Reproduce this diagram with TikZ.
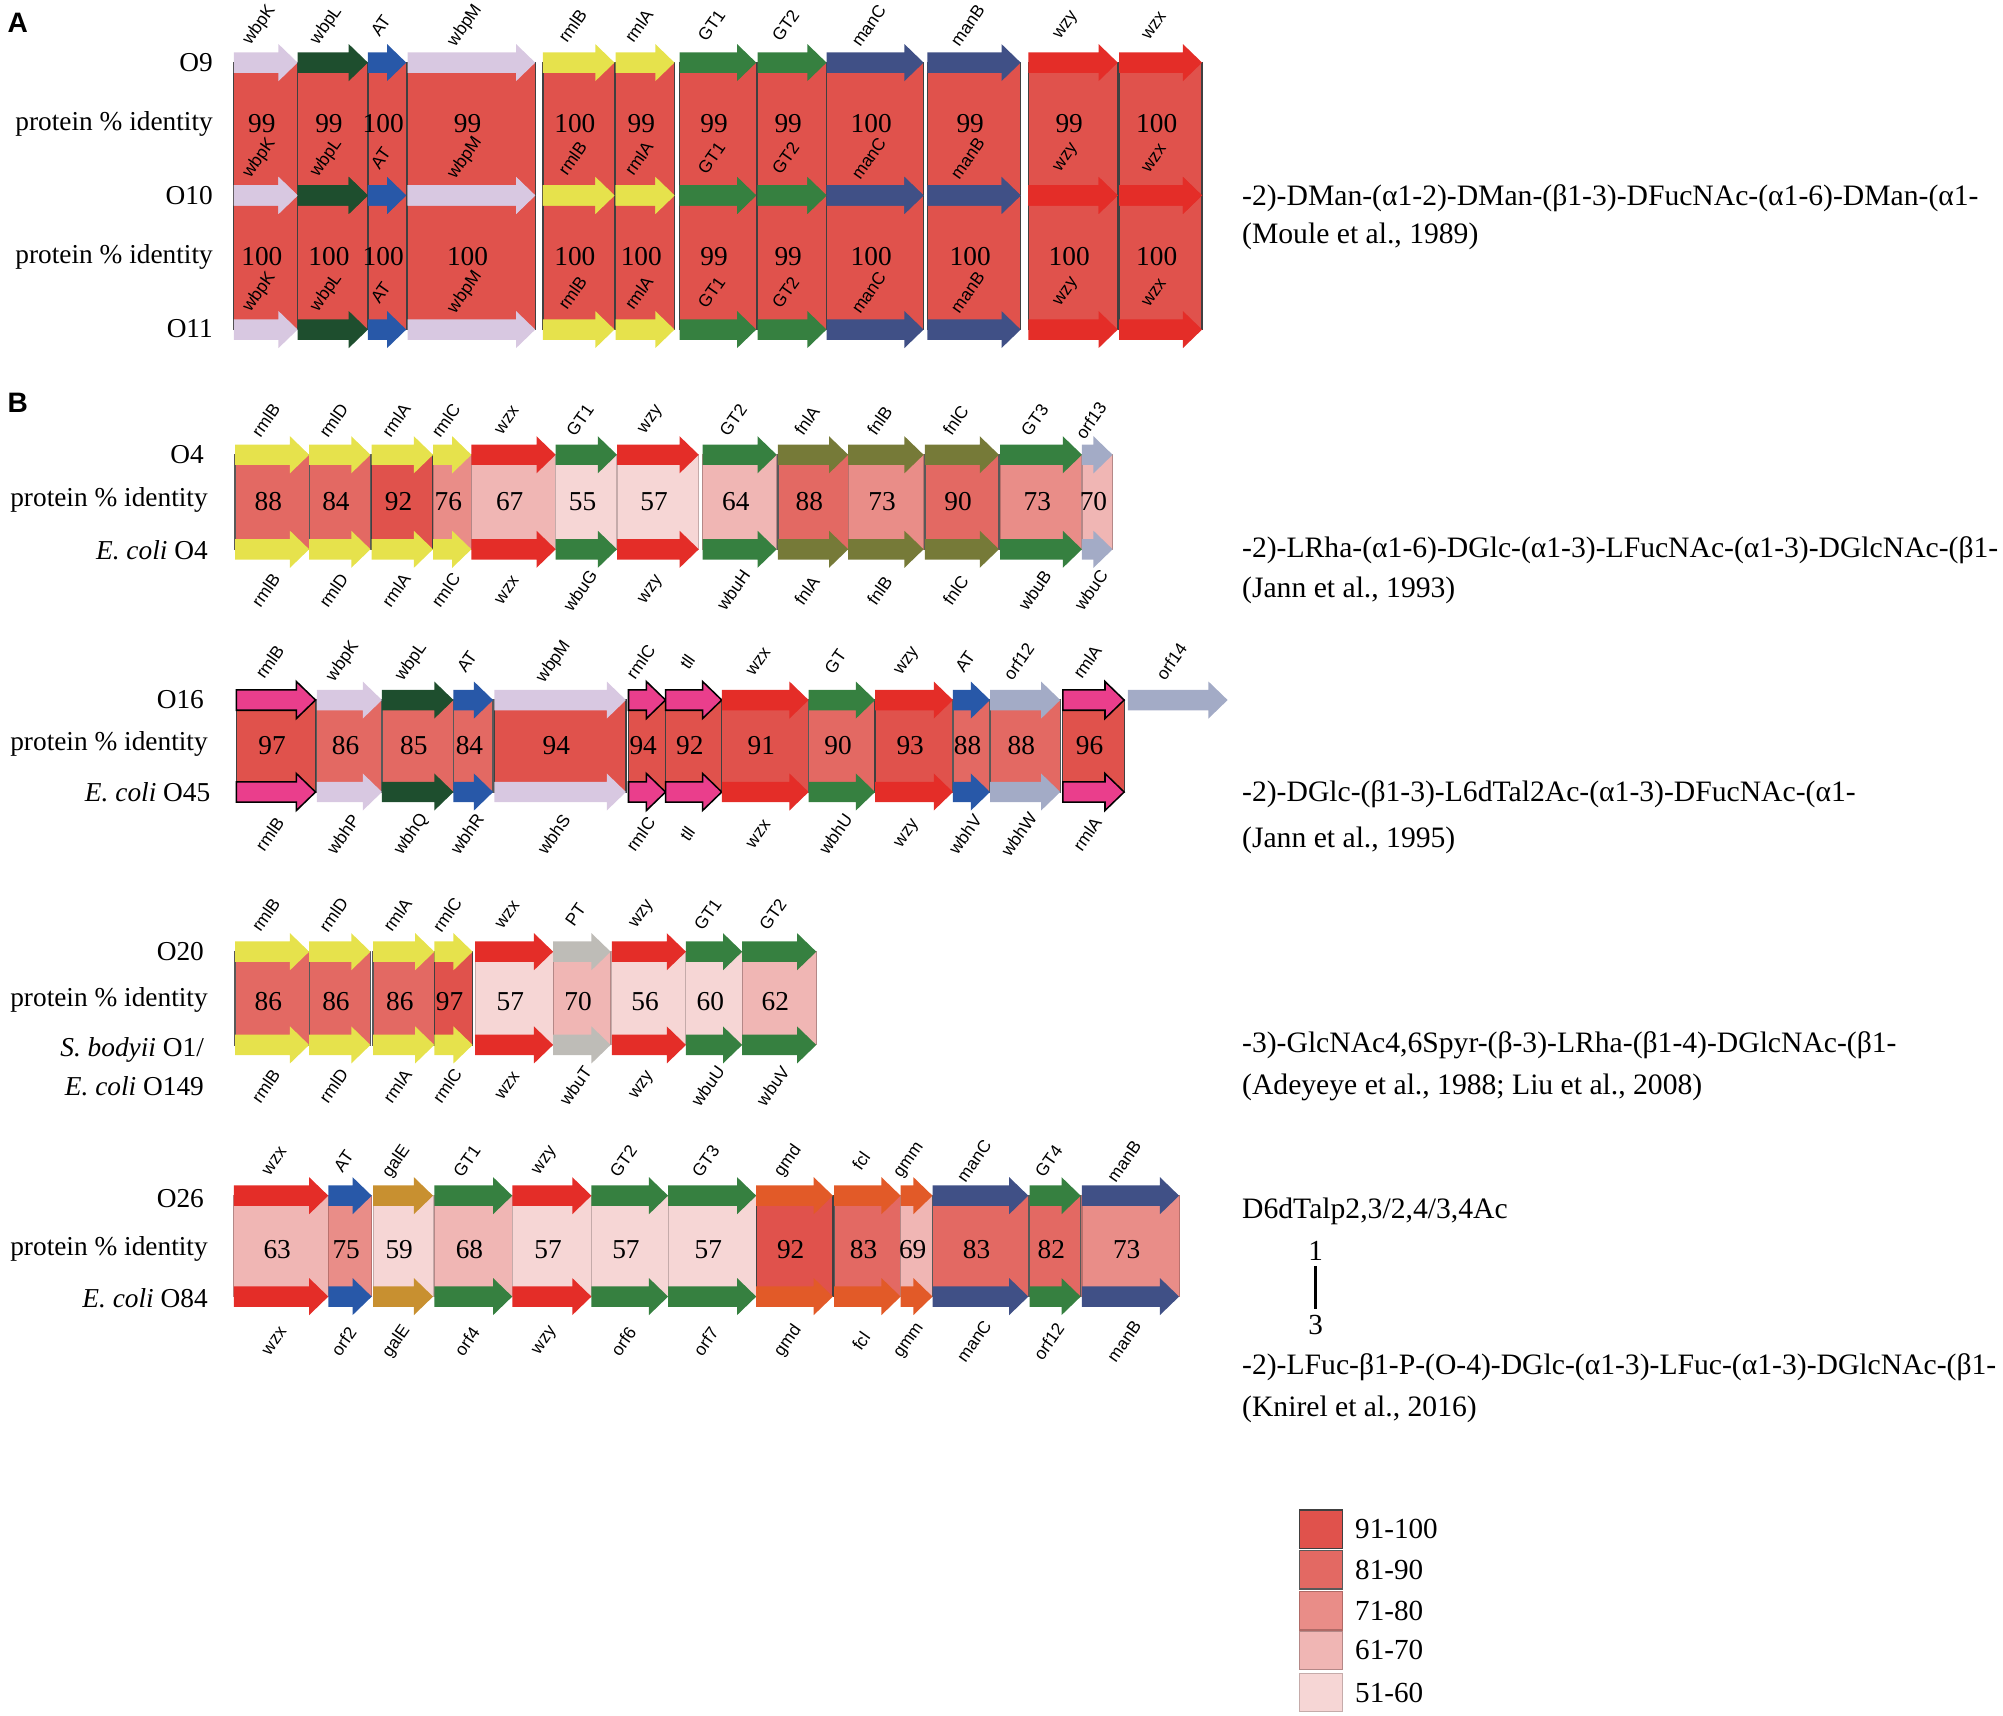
\documentclass[tikz,border=0pt]{standalone}
\usepackage{fontspec}
\setmainfont{Liberation Serif}
\setsansfont{Liberation Sans}
\usetikzlibrary{positioning}

% gene colours
\definecolor{cLav}{RGB}{216,200,225}
\definecolor{cDgr}{RGB}{30,78,46}
\definecolor{cBlu}{RGB}{40,88,168}
\definecolor{cYel}{RGB}{230,226,76}
\definecolor{cGrn}{RGB}{54,128,64}
\definecolor{cNav}{RGB}{64,80,134}
\definecolor{cRed}{RGB}{228,45,40}
\definecolor{cOlv}{RGB}{118,122,56}
\definecolor{cStl}{RGB}{163,171,198}
\definecolor{cPnk}{RGB}{234,62,140}
\definecolor{cGry}{RGB}{190,188,183}
\definecolor{cOrn}{RGB}{226,90,40}
\definecolor{cGld}{RGB}{200,144,48}
% identity colours
\definecolor{cidA}{RGB}{224,82,76}
\definecolor{cidB}{RGB}{227,105,99}
\definecolor{cidC}{RGB}{233,141,136}
\definecolor{cidD}{RGB}{240,182,180}
\definecolor{cidE}{RGB}{246,214,213}

\pgfdeclarelayer{bands}
\pgfsetlayers{bands,main}

\tikzset{
  gLav/.style={fill=cLav}, gDgr/.style={fill=cDgr}, gBlu/.style={fill=cBlu},
  gYel/.style={fill=cYel}, gGrn/.style={fill=cGrn}, gNav/.style={fill=cNav},
  gRed/.style={fill=cRed}, gOlv/.style={fill=cOlv}, gStl/.style={fill=cStl},
  gGry/.style={fill=cGry}, gOrn/.style={fill=cOrn}, gGld/.style={fill=cGld},
  gPnk/.style={fill=cPnk, draw=black, line width=0.6pt},
  bA/.style={fill=cidA, draw=black!75, line width=0.5pt},
  bB/.style={fill=cidB, draw=black!65, line width=0.5pt},
  bC/.style={fill=cidC, draw=cidC!80!black, line width=0.4pt},
  bD/.style={fill=cidD, draw=cidD!75!black, line width=0.4pt},
  bE/.style={fill=cidE, draw=cidE!80!black, line width=0.4pt},
  glab/.style={font=\sffamily\fontsize{6.8}{7}\selectfont, rotate=55, inner sep=0pt},
  pid/.style={font=\fontsize{10.7}{12}\selectfont, inner sep=0pt},
  rowlab/.style={pid, anchor=east},
  sugar/.style={font=\fontsize{11.6}{13}\selectfont, inner sep=0pt, anchor=west},
  keytext/.style={font=\fontsize{11.4}{13}\selectfont, inner sep=0pt},
  panel/.style={font=\sffamily\bfseries\fontsize{11}{12}\selectfont, inner sep=0pt},
  key/.style={minimum width=17pt, minimum height=15pt, inner sep=0pt, line width=0.5pt},
}

% arrow: style, x start, x tip, y
\newcommand{\genearrow}[4]{%
  \path[#1] (#2,#4-8) -- (#3-15,#4-8) -- (#3-15,#4-14.5) -- (#3,#4)
    -- (#3-15,#4+14.5) -- (#3-15,#4+8) -- (#2,#4+8) -- cycle;}

% pair: name, x start, x tip, arrow style, top label, bottom label, identity, band style
\newcommand{\genepair}[8]{%
  \begin{pgfonlayer}{bands}
    \path[#8] (#2,\ytop) -- (#3,\ytop) -- (#3,\ybot) -- (#2,\ybot) -- cycle;
  \end{pgfonlayer}
  \genearrow{#4}{#2}{#3}{\ytop}
  \genearrow{#4}{#2}{#3}{\ybot}
  \node[pid] (#1n) at ({(#2+#3)/2-3},\ynum) {#7};
  \if\relax\detokenize{#5}\relax\else
    \node[glab] (#1t) at ({(#2+#3)/2-5},\ylt) {#5};\fi
  \node[glab] (#1b) at ({(#2+#3)/2-5},\ylb) {#6};}

\begin{document}
\begin{tikzpicture}[x=0.5pt,y=-0.5pt]
\useasboundingbox (0,0) rectangle (1568,1343);

%Panel A
\node[panel] (pa) at (14,18) {A};
\node[rowlab] (o9) at (167,49) {O9};
\node[rowlab] (pa1) at (167,97) {protein \% identity};
\node[rowlab] (o10) at (167,153) {O10};
\node[rowlab] (pa2) at (167,201) {protein \% identity};
\node[rowlab] (o11) at (167,257) {O11};

% O9 vs O10
\def\ytop{49}\def\ybot{153}\def\ynum{97}\def\ylt{20}\def\ylb{124}
\genepair{a1}{183}{233}{gLav}{wbpK}{wbpK}{99}{bA}
\genepair{a2}{233}{288}{gDgr}{wbpL}{wbpL}{99}{bA}
\genepair{a3}{288}{318}{gBlu}{AT}{AT}{100}{bA}
\genepair{a4}{319}{419}{gLav}{wbpM}{wbpM}{99}{bA}
\genepair{a5}{425}{481}{gYel}{rmlB}{rmlB}{100}{bA}
\genepair{a6}{482}{528}{gYel}{rmlA}{rmlA}{99}{bA}
\genepair{a7}{532}{592}{gGrn}{GT1}{GT1}{99}{bA}
\genepair{a8}{593}{647}{gGrn}{GT2}{GT2}{99}{bA}
\genepair{a9}{647}{723}{gNav}{manC}{manC}{100}{bA}
\genepair{a10}{726}{799}{gNav}{manB}{manB}{99}{bA}
\genepair{a11}{805}{875}{gRed}{wzy}{wzy}{99}{bA}
\genepair{a12}{876}{941}{gRed}{wzx}{wzx}{100}{bA}
% O10 vs O11
\def\ytop{153}\def\ybot{258}\def\ynum{201}\def\ylb{229}
\genepair{b1}{183}{233}{gLav}{}{wbpK}{100}{bA}
\genepair{b2}{233}{288}{gDgr}{}{wbpL}{100}{bA}
\genepair{b3}{288}{318}{gBlu}{}{AT}{100}{bA}
\genepair{b4}{319}{419}{gLav}{}{wbpM}{100}{bA}
\genepair{b5}{425}{481}{gYel}{}{rmlB}{100}{bA}
\genepair{b6}{482}{528}{gYel}{}{rmlA}{100}{bA}
\genepair{b7}{532}{592}{gGrn}{}{GT1}{99}{bA}
\genepair{b8}{593}{647}{gGrn}{}{GT2}{99}{bA}
\genepair{b9}{647}{723}{gNav}{}{manC}{100}{bA}
\genepair{b10}{726}{799}{gNav}{}{manB}{100}{bA}
\genepair{b11}{805}{875}{gRed}{}{wzy}{100}{bA}
\genepair{b12}{876}{941}{gRed}{}{wzx}{100}{bA}

%Panel B
\node[panel] (pb) at (14,315) {B};

% O4
\node[rowlab] (o4) at (160,356) {O4};
\node[rowlab] (pb1) at (163,391) {protein \% identity};
\node[rowlab] (ec4) at (163,431) {\textit{E. coli} O4};
\def\ytop{356}\def\ybot{430}\def\ynum{393}\def\ylt{329}\def\ylb{462}
\genepair{c1}{184}{242}{gYel}{rmlB}{rmlB}{88}{bB}
\genepair{c2}{242}{290}{gYel}{rmlD}{rmlD}{84}{bB}
\genepair{c3}{291}{339}{gYel}{rmlA}{rmlA}{92}{bA}
\genepair{c4}{339}{369}{gYel}{rmlC}{rmlC}{76}{bC}
\genepair{c5}{369}{435}{gRed}{wzx}{wzx}{67}{bD}
\genepair{c6}{435}{483}{gGrn}{GT1}{wbuG}{55}{bE}
\genepair{c7}{483}{547}{gRed}{wzy}{wzy}{57}{bE}
\genepair{c8}{550}{608}{gGrn}{GT2}{wbuH}{64}{bD}
\genepair{c9}{609}{664}{gOlv}{fnlA}{fnlA}{88}{bB}
\genepair{c10}{664}{723}{gOlv}{fnlB}{fnlB}{73}{bC}
\genepair{c11}{724}{782}{gOlv}{fnlC}{fnlC}{90}{bB}
\genepair{c12}{783}{847}{gGrn}{GT3}{wbuB}{73}{bC}
\genepair{c13}{847}{871}{gStl}{orf13}{wbuC}{70}{bD}

% O16
\node[rowlab] (o16) at (160,548) {O16};
\node[rowlab] (pb2) at (163,582) {protein \% identity};
\node[rowlab] (ec45) at (165,620) {\textit{E. coli} O45};
\def\ytop{548}\def\ybot{620}\def\ynum{584}\def\ylt{518}\def\ylb{653}
\genepair{d1}{185}{247}{gPnk}{rmlB}{rmlB}{97}{bA}
\genepair{d2}{248}{299}{gLav}{wbpK}{wbhP}{86}{bB}
\genepair{d3}{299}{355}{gDgr}{wbpL}{wbhQ}{85}{bB}
\genepair{d4}{355}{386}{gBlu}{AT}{wbhR}{84}{bB}
\genepair{d5}{387}{490}{gLav}{wbpM}{wbhS}{94}{bA}
\genepair{d6}{492}{521}{gPnk}{rmlC}{rmlC}{94}{bA}
\genepair{d7}{521}{565}{gPnk}{tll}{tll}{92}{bA}
\genepair{d8}{565}{633}{gRed}{wzx}{wzx}{91}{bA}
\genepair{d9}{633}{685}{gGrn}{GT}{wbhU}{90}{bB}
\genepair{d10}{685}{746}{gRed}{wzy}{wzy}{93}{bA}
\genepair{d11}{746}{775}{gBlu}{AT}{wbhV}{88}{bB}
\genepair{d12}{775}{830}{gStl}{orf12}{wbhW}{88}{bB}
\genepair{d13}{832}{880}{gPnk}{rmlA}{rmlA}{96}{bA}
\genearrow{gStl}{883}{961}{548}
\node[glab] (d14t) at (917,518) {orf14};

% O20
\node[rowlab] (o20) at (160,745) {O20};
\node[rowlab] (pb3) at (163,783) {protein \% identity};
\node[rowlab] (sb1) at (160,822) {\textit{S. bodyii} O1/};
\node[rowlab] (ec149) at (160,850) {\textit{E. coli} O149};
\def\ytop{745}\def\ybot{818}\def\ynum{784}\def\ylt{716}\def\ylb{850}
\genepair{e1}{184}{242}{gYel}{rmlB}{rmlB}{86}{bB}
\genepair{e2}{242}{290}{gYel}{rmlD}{rmlD}{86}{bB}
\genepair{e3}{292}{340}{gYel}{rmlA}{rmlA}{86}{bB}
\genepair{e4}{340}{370}{gYel}{rmlC}{rmlC}{97}{bA}
\genepair{e5}{372}{433}{gRed}{wzx}{wzx}{57}{bE}
\genepair{e6}{433}{478}{gGry}{PT}{wbuT}{70}{bD}
\genepair{e7}{479}{537}{gRed}{wzy}{wzy}{56}{bE}
\genepair{e8}{537}{581}{gGrn}{GT1}{wbuU}{60}{bE}
\genepair{e9}{581}{639}{gGrn}{GT2}{wbuV}{62}{bD}

% O26
\node[rowlab] (o26) at (160,938) {O26};
\node[rowlab] (pb4) at (163,978) {protein \% identity};
\node[rowlab] (ec84) at (163,1016) {\textit{E. coli} O84};
\def\ytop{936}\def\ybot{1015}\def\ynum{978}\def\ylt{909}\def\ylb{1050}
\genepair{f1}{183}{257}{gRed}{wzx}{wzx}{63}{bD}
\genepair{f2}{257}{291}{gBlu}{AT}{orf2}{75}{bC}
\genepair{f3}{292}{339}{gGld}{galE}{galE}{59}{bE}
\genepair{f4}{340}{401}{gGrn}{GT1}{orf4}{68}{bD}
\genepair{f5}{401}{463}{gRed}{wzy}{wzy}{57}{bE}
\genepair{f6}{463}{523}{gGrn}{GT2}{orf6}{57}{bE}
\genepair{f7}{523}{592}{gGrn}{GT3}{orf7}{57}{bE}
\genepair{f8}{592}{652}{gOrn}{gmd}{gmd}{92}{bA}
\genepair{f9}{653}{705}{gOrn}{fcl}{fcl}{83}{bB}
\genepair{f10}{705}{730}{gOrn}{gmm}{gmm}{69}{bD}
\genepair{f11}{730}{805}{gNav}{manC}{manC}{83}{bB}
\genepair{f12}{806}{846}{gGrn}{GT4}{orf12}{82}{bB}
\genepair{f13}{847}{923}{gNav}{manB}{manB}{73}{bC}

% O-antigen structures
\node[sugar] (s1) at (972,155) {-2)-DMan-(α1-2)-DMan-(β1-3)-DFucNAc-(α1-6)-DMan-(α1-};
\node[sugar] (r1) at (972,185) {(Moule et al., 1989)};
\node[sugar] (s2) at (972,431) {-2)-LRha-(α1-6)-DGlc-(α1-3)-LFucNAc-(α1-3)-DGlcNAc-(β1-};
\node[sugar] (r2) at (972,462) {(Jann et al., 1993)};
\node[sugar] (s3) at (972,622) {-2)-DGlc-(β1-3)-L6dTal2Ac-(α1-3)-DFucNAc-(α1-};
\node[sugar] (r3) at (972,658) {(Jann et al., 1995)};
\node[sugar] (s4) at (972,818) {-3)-GlcNAc4,6Spyr-(β-3)-LRha-(β1-4)-DGlcNAc-(β1-};
\node[sugar] (r4) at (972,851) {(Adeyeye et al., 1988; Liu et al., 2008)};
\node[sugar] (s5a) at (972,948) {D6dTalp2,3/2,4/3,4Ac};
\node[keytext] (one) at (1030,979) {1};
\node[keytext] (three) at (1030,1037) {3};
\draw[line width=1pt] ([yshift=-2pt]one.south) -- ([yshift=2pt]three.north);
\node[sugar] (s5) at (972,1070) {-2)-LFuc-β1-P-(O-4)-DGlc-(α1-3)-LFuc-(α1-3)-DGlcNAc-(β1-};
\node[sugar] (r5) at (972,1103) {(Knirel et al., 2016)};

% legend
\node[key, fill=cidA, draw=black!75] (k1) at (1034,1197) {};
\node[key, fill=cidB, draw=black!65] (k2) at (1034,1229) {};
\node[key, fill=cidC, draw=cidC!75!black] (k3) at (1034,1261) {};
\node[key, fill=cidD, draw=cidD!75!black] (k4) at (1034,1292) {};
\node[key, fill=cidE, draw=cidE!80!black] (k5) at (1034,1325) {};
\node[keytext, right=4.5pt of k1] (k1t) {91-100};
\node[keytext, right=4.5pt of k2] (k2t) {81-90};
\node[keytext, right=4.5pt of k3] (k3t) {71-80};
\node[keytext, right=4.5pt of k4] (k4t) {61-70};
\node[keytext, right=4.5pt of k5] (k5t) {51-60};

\end{tikzpicture}
\end{document}
